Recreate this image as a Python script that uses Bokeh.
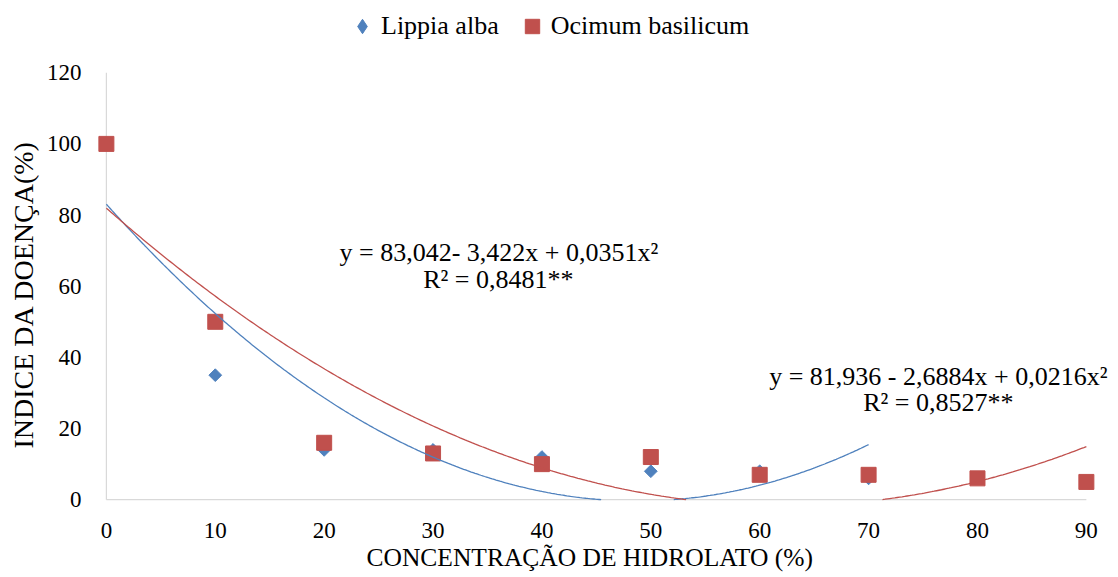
import numpy as np
from bokeh.plotting import figure
from bokeh.models import Range1d, FixedTicker, Label, Legend, LegendItem, Title
from bokeh.embed import file_html
from bokeh.resources import INLINE

# ---- data ----
series_names = ["Lippia alba", "Ocimum basilicum"]
conc_lippia = [0, 10, 20, 30, 40, 50, 60, 70]
lippia = [100, 35, 14, 14, 12, 8, 8, 6]
conc_ocimum = [0, 10, 20, 30, 40, 50, 60, 70, 80, 90]
ocimum = [100, 50, 16, 13, 10, 12, 7, 7, 6, 5]
# quadratic trend-line coefficients printed on the chart (c0, c1, c2)
coef_lippia = [83.042, -3.422, 0.0351]
coef_ocimum = [81.936, -2.6884, 0.0216]
eq_lippia = ["y = 83,042- 3,422x + 0,0351x²", "R² = 0,8481**"]
eq_ocimum = ["y = 81,936 - 2,6884x + 0,0216x²", "R² = 0,8527**"]
x_ticks = [0, 10, 20, 30, 40, 50, 60, 70, 80, 90]
y_ticks = [0, 20, 40, 60, 80, 100, 120]
x_title = "CONCENTRAÇÃO DE HIDROLATO (%)"
y_title = "INDICE DA DOENÇA(%)"

BLUE = "#4F81BD"
RED = "#C0504D"
AXIS = "#D9D9D9"
FONT = "Liberation Serif"
TXT = "#000000"

# the frame reaches the top of the canvas so that the key can sit above y = 120
p = figure(width=1112, height=576,
           x_range=Range1d(-1, 92.4), y_range=Range1d(-0.5, 140.3),
           output_backend="svg", toolbar_location=None,
           min_border_left=95, min_border_right=0,
           min_border_top=0, min_border_bottom=75)
p.background_fill_color = "white"
p.border_fill_color = "white"
p.outline_line_color = None
p.grid.visible = False

for ax in (p.xaxis[0], p.yaxis[0]):
    ax.axis_line_color = None
    ax.major_tick_line_color = None
    ax.minor_tick_line_color = None
    ax.major_label_text_font = FONT
    ax.major_label_text_font_size = "23px"
    ax.major_label_text_color = TXT

p.xaxis.ticker = FixedTicker(ticks=x_ticks)
p.yaxis.ticker = FixedTicker(ticks=y_ticks)
p.xaxis.major_label_standoff = 15
p.yaxis.major_label_standoff = 8

# axis titles (placed as side titles so they line up with the 0-120 / 0-90 span)
p.add_layout(Title(text=y_title, align="left", offset=53, standoff=7,
                   vertical_align="middle", text_font=FONT,
                   text_font_size="28px", text_font_style="normal",
                   text_color=TXT), "left")
p.add_layout(Title(text=x_title, align="left", offset=271, standoff=2,
                   vertical_align="middle", text_font=FONT,
                   text_font_size="25.5px", text_font_style="normal",
                   text_color=TXT), "below")

# axis lines at x = 0 and y = 0 (light grey, as in the reference)
p.segment(x0=[x_ticks[0], x_ticks[0]], y0=[y_ticks[0], y_ticks[0]],
          x1=[x_ticks[-1], x_ticks[0]], y1=[y_ticks[0], y_ticks[-1]],
          line_color=AXIS, line_width=1.2)

# data points
r_blue = p.scatter(conc_lippia, lippia, marker="square", angle=np.pi / 4, size=9,
                   fill_color=BLUE, line_color=BLUE)
r_red = p.scatter(conc_ocimum, ocimum, marker="square", size=15,
                  fill_color=RED, line_color=RED)

# polynomial trend lines (clipped at the axis minimum, as in Excel)
def trend(coef, x0, x1):
    xs = np.linspace(x0, x1, 400)
    ys = coef[0] + coef[1] * xs + coef[2] * xs ** 2
    ys = np.where(ys < 0, np.nan, ys)
    return xs, ys

xb, yb = trend(coef_lippia, conc_lippia[0], conc_lippia[-1])
xr, yr = trend(coef_ocimum, conc_ocimum[0], conc_ocimum[-1])
p.line(xb, yb, line_color=BLUE, line_width=1.3)
p.line(xr, yr, line_color=RED, line_width=1.3)

# legend (a diamond glyph keeps its shape in the key)
leg_blue = p.scatter([np.nan], [np.nan], marker="diamond",
                     fill_color=BLUE, line_color=BLUE)
legend = Legend(items=[LegendItem(label=series_names[0], renderers=[leg_blue]),
                       LegendItem(label=series_names[1], renderers=[r_red])],
                orientation="horizontal", location=(248, 457),
                glyph_width=38, glyph_height=36, label_standoff=0, spacing=14,
                padding=0, margin=0,
                label_text_font=FONT, label_text_font_size="26px",
                label_text_color=TXT,
                background_fill_alpha=0, border_line_alpha=0)
p.add_layout(legend)

# regression equations
def eq_label(x, y, text):
    p.add_layout(Label(x=x, y=y, text=text, text_align="center",
                       text_baseline="middle", text_font=FONT,
                       text_font_size="26px", text_color=TXT))

eq_label(36.05, 69.5, eq_lippia[0])
eq_label(36.0, 61.9, eq_lippia[1])
eq_label(76.4, 34.6, eq_ocimum[0])
eq_label(76.4, 27.3, eq_ocimum[1])

open("out.html", "w").write(file_html(p, INLINE))
